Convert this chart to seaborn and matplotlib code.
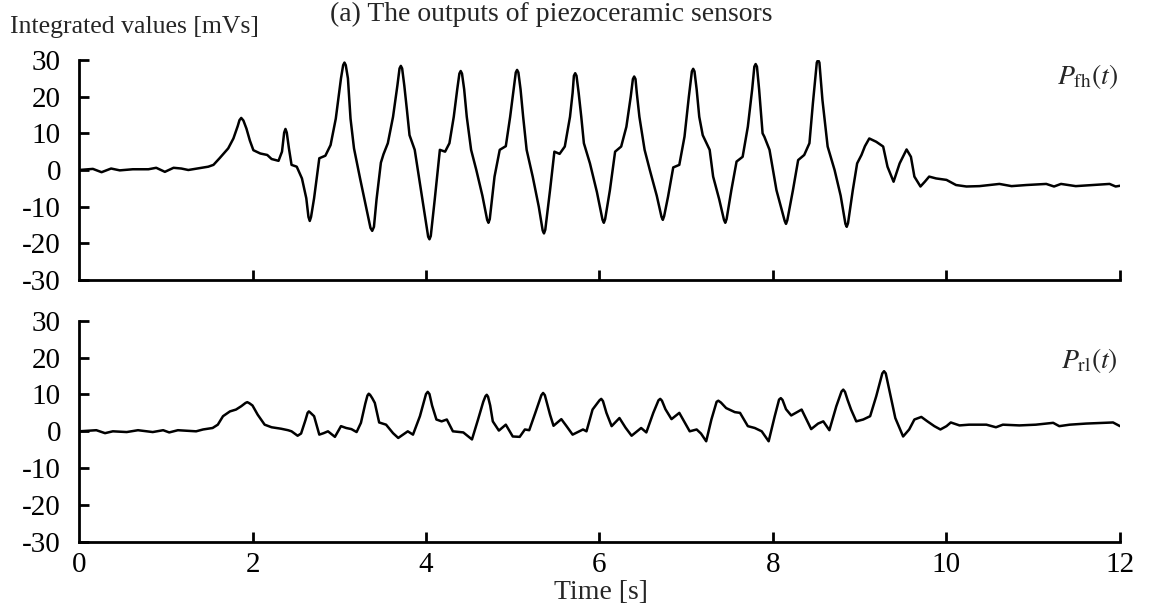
import numpy as np
import pandas as pd
import matplotlib
matplotlib.use("Agg")
import matplotlib.pyplot as plt
import seaborn as sns

# Front-high piezoceramic sensor, integrated output [mVs]
time_fh = [0, 0.16, 0.26, 0.37, 0.47, 0.62, 0.80, 0.89, 0.99, 1.09, 1.18, 1.26, 1.39, 1.49,
           1.55, 1.62, 1.72, 1.78, 1.83, 1.85, 1.87, 1.895, 1.93, 1.97, 2.01, 2.09, 2.17, 2.22,
           2.30, 2.34, 2.365, 2.38, 2.395, 2.42, 2.45, 2.51, 2.57, 2.62, 2.645, 2.66, 2.675, 2.71,
           2.77, 2.84, 2.90, 2.96, 3.02, 3.045, 3.06, 3.075, 3.10, 3.13, 3.17, 3.24, 3.30, 3.36,
           3.38, 3.40, 3.43, 3.48, 3.51, 3.56, 3.62, 3.67, 3.695, 3.71, 3.725, 3.75, 3.78, 3.81,
           3.87, 3.93, 3.98, 4.025, 4.04, 4.055, 4.10, 4.16, 4.22, 4.27, 4.32, 4.36, 4.385, 4.40,
           4.415, 4.44, 4.47, 4.52, 4.58, 4.65, 4.705, 4.72, 4.735, 4.79, 4.85, 4.92, 4.97, 5.01,
           5.035, 5.05, 5.065, 5.09, 5.12, 5.16, 5.23, 5.30, 5.345, 5.36, 5.375, 5.43, 5.48, 5.54,
           5.60, 5.66, 5.69, 5.705, 5.72, 5.735, 5.76, 5.79, 5.82, 5.89, 5.97, 6.035, 6.05, 6.065,
           6.12, 6.18, 6.25, 6.31, 6.36, 6.385, 6.40, 6.415, 6.43, 6.46, 6.52, 6.58, 6.66, 6.715,
           6.73, 6.745, 6.79, 6.85, 6.92, 6.98, 7.03, 7.065, 7.08, 7.095, 7.12, 7.15, 7.19, 7.27,
           7.31, 7.38, 7.435, 7.45, 7.465, 7.52, 7.58, 7.65, 7.71, 7.76, 7.785, 7.80, 7.815, 7.84,
           7.88, 7.90, 7.96, 8.04, 8.135, 8.15, 8.165, 8.23, 8.29, 8.36, 8.42, 8.46, 8.505, 8.52,
           8.535, 8.57, 8.63, 8.71, 8.78, 8.835, 8.85, 8.865, 8.92, 8.97, 9.02, 9.06, 9.11, 9.19,
           9.27, 9.32, 9.39, 9.46, 9.54, 9.59, 9.63, 9.70, 9.75, 9.80, 9.88, 10.0, 10.11, 10.23,
           10.38, 10.61, 10.75, 10.92, 11.15, 11.24, 11.32, 11.49, 11.69, 11.88, 11.95, 12.0]
value_fh = [0, 0.3, -0.6, 0.4, -0.1, 0.2, 0.2, 0.6, -0.5, 0.6, 0.4, 0, 0.5, 0.9,
            1.4, 3.2, 5.9, 8.6, 12, 13.6, 14.2, 13.5, 11.3, 8, 5.4, 4.5, 4.1, 3.0,
            2.5, 5, 10.2, 11.2, 10.2, 5.9, 1.4, 0.9, -2.3, -7.7, -12.8, -13.9, -12.8, -7.7,
            3.2, 3.9, 6.8, 14, 25, 28.6, 29.3, 28.6, 25, 14, 5.9, -2.3, -9, -15.8,
            -16.6, -15.5, -8, 2, 4.3, 7.3, 14.5, 23, 27.7, 28.4, 27.7, 23, 16.4, 9.5,
            5.5, -3.6, -11, -18.2, -18.9, -18.0, -8.2, 5.5, 5, 7.3, 14.5, 22, 26.3, 27,
            26.3, 22, 14.5, 5.5, 0, -7, -13.6, -14.4, -13.4, -1.8, 5.5, 6.5, 14.5, 22,
            26.6, 27.3, 26.6, 22, 14.5, 5.5, -1.8, -10, -16.5, -17.3, -16.3, -5.5, 5, 4.4,
            6.4, 14.5, 21, 25.7, 26.4, 25.7, 21, 14.5, 7.3, 1.8, -6, -13.6, -14.4, -13.4,
            -5.5, 5, 6.4, 11.8, 20, 24.8, 25.5, 24.8, 21, 14.5, 5.5, 0, -7, -12.8,
            -13.6, -12.6, -7.3, 0.7, 1.4, 9.1, 20, 26.9, 27.6, 26.9, 22, 14.5, 9.5, 5.5,
            -1.8, -8, -13.6, -14.4, -13.4, -5.5, 2.3, 3.6, 11.8, 22, 28.2, 28.9, 28.2, 22,
            10, 9.1, 5.5, -5.5, -13.9, -14.7, -13.7, -5.5, 2.7, 4.1, 7.3, 18.2, 29.3, 30,
            29.3, 19.1, 6.4, 0, -7, -14.7, -15.5, -14.5, -5.5, 1.8, 4.1, 6.5, 8.6, 7.7,
            6.4, 0.9, -3.2, 1.8, 5.6, 3.6, -1.8, -4.5, -3.2, -1.8, -2.3, -2.7, -4.1, -4.5,
            -4.4, -3.8, -4.4, -4.1, -3.8, -4.5, -3.8, -4.4, -4.1, -3.8, -4.5, -4.3]

# Rear-low piezoceramic sensor, integrated output [mVs]
time_rl = [0, 0.2, 0.30, 0.39, 0.55, 0.68, 0.85, 0.97, 1.04, 1.14, 1.35, 1.43, 1.54, 1.60,
           1.66, 1.74, 1.81, 1.87, 1.92, 1.94, 1.965, 2.0, 2.06, 2.14, 2.22, 2.33, 2.41, 2.45,
           2.52, 2.56, 2.61, 2.635, 2.65, 2.665, 2.71, 2.77, 2.82, 2.87, 2.95, 3.02, 3.08, 3.14,
           3.20, 3.25, 3.30, 3.325, 3.34, 3.355, 3.38, 3.41, 3.46, 3.54, 3.62, 3.68, 3.79, 3.85,
           3.93, 4.00, 4.02, 4.04, 4.07, 4.12, 4.18, 4.24, 4.31, 4.43, 4.53, 4.60, 4.66, 4.685,
           4.70, 4.715, 4.74, 4.77, 4.84, 4.92, 5.00, 5.08, 5.14, 5.19, 5.26, 5.33, 5.35, 5.37,
           5.39, 5.43, 5.47, 5.56, 5.62, 5.69, 5.81, 5.85, 5.92, 6.00, 6.02, 6.04, 6.08, 6.14,
           6.23, 6.30, 6.37, 6.48, 6.54, 6.62, 6.68, 6.70, 6.72, 6.76, 6.83, 6.92, 7.04, 7.12,
           7.17, 7.23, 7.29, 7.35, 7.37, 7.40, 7.46, 7.56, 7.62, 7.71, 7.79, 7.87, 7.95, 8.02,
           8.07, 8.09, 8.11, 8.15, 8.21, 8.33, 8.44, 8.52, 8.58, 8.65, 8.73, 8.79, 8.81, 8.83,
           8.86, 8.90, 8.96, 9.04, 9.12, 9.19, 9.26, 9.28, 9.30, 9.34, 9.41, 9.50, 9.57, 9.63,
           9.71, 9.78, 9.86, 9.93, 10.0, 10.05, 10.15, 10.26, 10.46, 10.57, 10.65, 10.84, 11.03,
           11.23, 11.30, 11.42, 11.61, 11.80, 11.92, 12.0]
value_rl = [0, 0.3, -0.5, 0, -0.2, 0.3, -0.2, 0.3, -0.3, 0.3, 0, 0.5, 0.9, 1.8,
            4.1, 5.4, 5.9, 6.8, 7.7, 7.9, 7.6, 7.0, 4.5, 1.8, 1.1, 0.7, 0.3, 0,
            -1.2, -0.6, 3, 5.0, 5.4, 5.1, 4.1, -0.9, -0.5, 0, -1.5, 1.4, 0.9, 0.6,
            -0.2, 2.3, 7.5, 9.7, 10.2, 9.9, 9, 7.7, 2.4, 1.8, -0.5, -1.8, 0, -0.9,
            4.1, 10.1, 10.7, 10.1, 7, 3.2, 2.7, 3.2, 0, -0.3, -2.2, 3.2, 8, 9.5,
            9.9, 9.4, 7, 2.7, 0.2, 1.8, -1.4, -1.5, 0.5, 0.3, 5, 9.8, 10.4, 9.8,
            8, 4.5, 1.5, 3.3, 1.4, -0.9, 0.5, 0, 5.9, 8.4, 8.8, 8.2, 5, 1.4,
            3.6, 1, -1.2, 0.9, -0.3, 5, 8.4, 8.8, 8.3, 6, 3.3, 5, 0, 0.5,
            -0.6, -2.7, 3.2, 8.0, 8.3, 7.8, 6.3, 5.2, 5, 1.4, 0.9, 0, -2.7, 4.1,
            8.6, 9.0, 8.5, 6, 4.3, 5.9, 0.6, 2.1, 2.7, 0.3, 6.8, 10.8, 11.3, 10.7,
            8.5, 5.9, 2.7, 3.2, 4.1, 9.5, 15.7, 16.3, 15.7, 11.3, 3.6, -1.4, 0.5, 3.2,
            3.9, 2.7, 1.4, 0.5, 1.4, 2.4, 1.6, 1.8, 1.8, 1.1, 1.8, 1.6, 1.8,
            2.3, 1.4, 1.8, 2.1, 2.3, 2.4, 1.4]

y_ticks = [30, 20, 10, 0, -10, -20, -30]
x_ticks = [2, 4, 6, 8, 10, 12]
x_tick_labels = ["0", "2", "4", "6", "8", "10", "12"]

sns.set_theme(style="white")
plt.rcParams["font.family"] = ["Liberation Serif", "DejaVu Serif"]
plt.rcParams["mathtext.fontset"] = "stix"

df_fh = pd.DataFrame({"time": time_fh, "value": value_fh})
df_rl = pd.DataFrame({"time": time_rl, "value": value_rl})

fig = plt.figure(figsize=(11.5, 6.08), dpi=100)
ax_top = fig.add_axes([0.0687, 0.5395, 0.9052, 0.3618])
ax_bot = fig.add_axes([0.0687, 0.1086, 0.9052, 0.3640])

for ax, df, label, ly in [(ax_top, df_fh, r"$P_{\mathrm{fh}}(t)$", 0.925),
                          (ax_bot, df_rl, r"$P_{\mathrm{rl}}(t)$", 0.82)]:
    sns.lineplot(data=df, x="time", y="value", ax=ax, color="black",
                 linewidth=1.8, estimator=None, sort=False)
    ax.lines[0].set_solid_joinstyle("round")
    ax.set_xlim(0, 12)
    ax.set_ylim(-30, 30)
    ax.set_yticks(y_ticks)
    ax.set_yticklabels([str(v) for v in y_ticks])
    ax.set_xticks(x_ticks)
    ax.set_xlabel("")
    ax.set_ylabel("")
    for side in ["top", "right"]:
        ax.spines[side].set_visible(False)
    for side in ["left", "bottom"]:
        ax.spines[side].set_linewidth(2.0)
        ax.spines[side].set_color("black")
    ax.tick_params(axis="both", which="major", direction="in", length=7.5,
                   width=2.0, color="black", labelsize=21, labelcolor="black",
                   left=True, bottom=True, top=False, right=False)
    ax.tick_params(axis="y", pad=13)
    ax.tick_params(axis="x", pad=7)
    ax.text(0.998, ly, label, transform=ax.transAxes, ha="right", va="center",
            fontsize=20)
    ax.set_facecolor("white")

ax_top.set_xticklabels([])
ax_bot.set_xticks([0] + x_ticks)
ax_bot.set_xticklabels(x_tick_labels)
ax_bot.xaxis.get_major_ticks()[0].tick1line.set_visible(False)

fig.text(0.479, 0.997, "(a) The outputs of piezoceramic sensors", ha="center",
         va="top", fontsize=20)
fig.text(0.0087, 0.955, "Integrated values [mVs]", ha="left", va="center",
         fontsize=18.5)
fig.text(0.5226, 0.026, "Time [s]", ha="center", va="center", fontsize=20)

fig.savefig("out.png", dpi=100, facecolor="white")
